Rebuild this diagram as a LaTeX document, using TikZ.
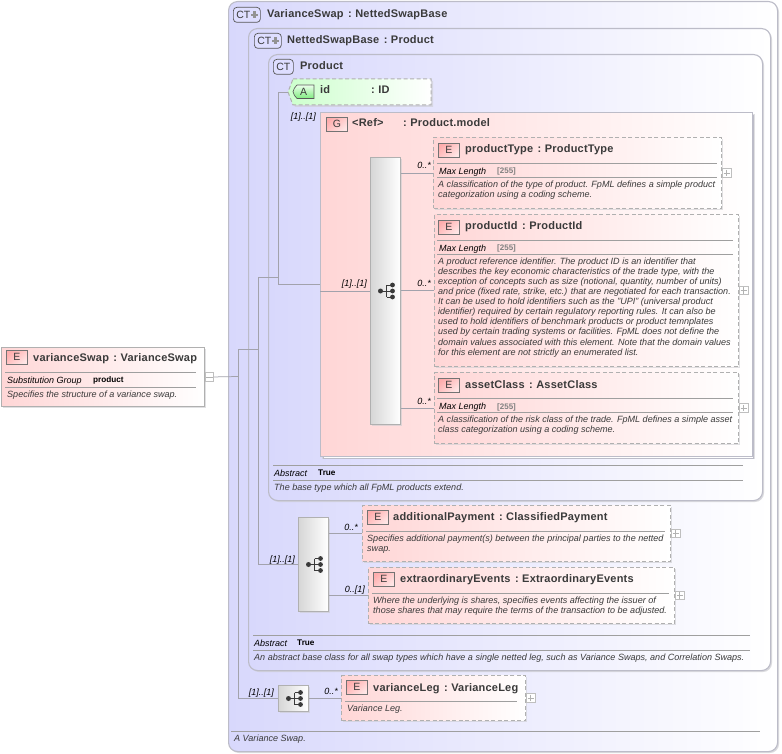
\documentclass[tikz,border=0pt]{standalone}
\usepackage{fontspec}
\setmainfont{Liberation Sans}
\usetikzlibrary{shapes.geometric,calc}
\definecolor{frame}{HTML}{BCBCC8}
\definecolor{wire}{HTML}{A2A2AC}
\definecolor{ctblue}{HTML}{D8D8FC}
\definecolor{epink}{HTML}{FFD6D6}
\definecolor{ink}{HTML}{3A3A3A}
\definecolor{dash}{HTML}{B0B0B0}
\definecolor{shad}{HTML}{CCCCD0}
\newcommand{\tsep}{\hspace{4.5pt}:\hspace{3.5pt}}
\tikzset{
 x=1pt,y=-1pt,
 ctpanel/.style={draw=frame,line width=1.1pt,rounded corners=9pt,left color=ctblue,right color=white,inner sep=0,anchor=north west},
 elemsolid/.style={draw=dash,line width=.9pt,left color=epink,right color=white,inner sep=0,anchor=north west},
 elemdash/.style={draw=dash,line width=1pt,dash pattern=on 4pt off 2.5pt,left color=epink,right color=white,inner sep=0,anchor=north west},
 groupbox/.style={draw=frame,line width=.9pt,left color=epink,right color=white,inner sep=0,anchor=north west},
 seqbox/.style={draw=dash,line width=1pt,left color=white!84!black,right color=white,inner sep=0,anchor=north west},
 wireln/.style={draw=wire,line width=.75pt},
 ruleln/.style={draw=gray!75,line width=.65pt},
 ttl/.style={font=\bfseries\fontsize{11}{13}\selectfont\addfontfeature{LetterSpace=2},text=ink,inner sep=0,anchor=base west},
 desc/.style={font=\itshape\fontsize{9.05}{10.1}\selectfont,text=ink,inner sep=0,anchor=north west,align=left},
 prop/.style={font=\itshape\fontsize{9}{10}\selectfont,text=black,inner sep=0,anchor=base west},
 propv/.style={font=\bfseries\fontsize{8.2}{10}\selectfont,text=black,inner sep=0,anchor=base west},
 lenv/.style={font=\bfseries\fontsize{8}{10}\selectfont,text=gray,inner sep=0,anchor=base west},
 card/.style={font=\itshape\fontsize{9}{10}\selectfont,text=black,inner sep=0,anchor=base east},
 badgee/.style={draw=gray!90!black,line width=.7pt,left color=red!32!white,right color=white!90!red,shading angle=40,minimum width=21pt,minimum height=14pt,inner sep=0,font=\fontsize{10.5}{12}\selectfont,text=ink},
 badgect/.style={draw=ink!85,line width=.7pt,rounded corners=3.5pt,fill=blue!13!white,minimum height=15pt,inner sep=0,font=\fontsize{10.5}{12}\selectfont,text=ink},
 plusbox/.style={draw=gray!50,line width=.6pt,fill=white,minimum width=8.5pt,minimum height=8.5pt,inner sep=0},
}
\newcommand{\cbox}[6]{%
 \pgfmathsetlengthmacro{\bw}{#5-#3}\pgfmathsetlengthmacro{\bh}{#6-#4}%
 \fill[shad,opacity=.6] (#3+2,#4+2) rectangle (#5+2,#6+2);%
 \node[#1,minimum width=\bw,minimum height=\bh] (#2) at (#3,#4) {};}
\newcommand{\panel}[6]{%
 \pgfmathsetlengthmacro{\bw}{#5-#3}\pgfmathsetlengthmacro{\bh}{#6-#4}%
 \fill[shad,opacity=.7,rounded corners=9pt] (#3+2,#4+2) rectangle (#5+2,#6+2);%
 \node[#1,minimum width=\bw,minimum height=\bh,rectangle] (#2) at (#3,#4) {};}
\newcommand{\plusm}[2]{%
 \node[plusbox,anchor=west] (#1) at (#2.east) {};
 \draw[gray!60,line width=.5pt] ($(#1.west)+(1.5,0)$) -- ($(#1.east)+(-1.5,0)$);
 \draw[gray!60,line width=.5pt] ($(#1.north)+(0,1.5)$) -- ($(#1.south)+(0,-1.5)$);}
\newcommand{\seqglyph}[1]{%
 \begin{scope}[shift={(#1.center)},ink]
  \fill (-5,0) circle (2.5);
  \fill (7,-6) circle (2.4); \fill (7,0) circle (2.4); \fill (7,6) circle (2.4);
  \draw[line width=.8pt] (-5,0) -- (7,0) (1,-6) -- (1,6) (1,-6) -- (7,-6) (1,6) -- (7,6);
 \end{scope}}
\newcommand{\ebadge}[4][E]{\node[badgee,anchor=north west] (#2) at (#3,#4) {#1};}
% CT badge with a thick grey cross
\newcommand{\ctplus}[3]{%
 \node[badgect,anchor=north west,minimum width=27pt,text width=25pt,align=left] (#1) at (#2,#3) {\hspace{2pt}CT};
 \fill[gray!85] ($(#1.center)+(4,-1.2)$) rectangle ++(7,2.4);
 \fill[gray!85] ($(#1.center)+(6.3,-3.5)$) rectangle ++(2.4,7);}
\begin{document}
\begin{tikzpicture}
\useasboundingbox (0,0) rectangle (782,754);
\fill[white] (0,0) rectangle (782,754);

% panels
\panel{ctpanel}{swapPanel}{228}{1}{777}{751}
\panel{ctpanel}{nettedPanel}{248}{28}{770}{670}
\panel{ctpanel}{productPanel}{268}{54}{762}{500}

% panel headers
\ctplus{ctA}{233}{7}
\node[ttl] (tA) at (267,18) {VarianceSwap\tsep NettedSwapBase};
\ctplus{ctB}{254}{33}
\node[ttl] (tB) at (287,44) {NettedSwapBase\tsep Product};
\node[badgect,anchor=north west,minimum width=20pt] (ctC) at (273,59) {CT};
\node[ttl] (tC) at (300,70) {Product};

% group (double edge)
\fill[shad,opacity=.6] (322,114) rectangle (755,459);
\draw[frame,line width=.7pt,fill=white] (323,115) rectangle (753,458);
\node[groupbox,minimum width=432pt,minimum height=344pt] (groupRef) at (320,112) {};
\node[badgee,anchor=north west] (gbadge) at (326,117) {G};
\node[ttl] (gname) at (352,127) {<Ref>};
\node[ttl] (gtype) at (403,127) {:\hspace{3.5pt}Product.model};

% attribute id
\fill[shad,opacity=.6] (295,81) -- (433,81) -- (433,107) -- (295,107) -- (290,94) -- cycle;
\path[draw=dash,line width=1pt,dash pattern=on 4pt off 2.5pt,left color=green!20!white,right color=white] (293,79) -- (431,79) -- (431,105) -- (293,105) -- (288,92) coordinate (idTip) -- cycle;
\path[draw=ink!85,line width=.65pt,top color=white!92!green,bottom color=green!50!white!85!gray] (297,85) -- (314,85) -- (314,98.5) -- (297,98.5) .. controls (295,97) and (293.5,94) .. (293,91.7) .. controls (293.5,89.5) and (295,86.5) .. (297,85) -- cycle;
\node[inner sep=0,font=\fontsize{10.5}{12}\selectfont,text=ink] (abadge) at (303.5,92) {A};
\node[ttl] (idname) at (320,94) {id};
\node[ttl] (idtype) at (371,94) {:\hspace{3.5pt}ID};

% sequence 1
\cbox{seqbox}{seqA}{370}{157}{400}{424}
\seqglyph{seqA}

% productType
\cbox{elemdash}{pType}{433}{137}{721}{208}
\ebadge{ePT}{438}{143}
\node[ttl] at (465,153) {productType\tsep ProductType};
\draw[ruleln] (437,163) -- (717,163) (437,177) -- (717,177);
\node[prop] at (439,174.5) {Max Length};
\node[lenv] at (497,174) {[255]};
\node[desc] at (438,180.5) {A classification of the type of product. FpML defines a simple product\\categorization using a coding scheme.};
\plusm{pPT}{pType}

% productId
\cbox{elemdash}{pId}{434}{214}{738}{366}
\ebadge{ePI}{438}{220}
\node[ttl] at (465,230) {productId\tsep ProductId};
\draw[ruleln] (437,240) -- (733,240) (437,254) -- (733,254);
\node[prop] at (439,251.5) {Max Length};
\node[lenv] at (497,251) {[255]};
\node[desc] at (438,257.5) {A product reference identifier. The product ID is an identifier that\\describes the key economic characteristics of the trade type, with the\\exception of concepts such as size (notional, quantity, number of units)\\and price (fixed rate, strike, etc.) that are negotiated for each transaction.\\It can be used to hold identifiers such as the "UPI" (universal product\\identifier) required by certain regulatory reporting rules. It can also be\\used to hold identifiers of benchmark products or product temnplates\\used by certain trading systems or facilities. FpML does not define the\\domain values associated with this element. Note that the domain values\\for this element are not strictly an enumerated list.};
\plusm{pPI}{pId}

% assetClass
\cbox{elemdash}{aClass}{434}{372}{738}{443}
\ebadge{eAC}{438}{378}
\node[ttl] at (465,388) {assetClass\tsep AssetClass};
\draw[ruleln] (437,398) -- (733,398) (437,412) -- (733,412);
\node[prop] at (439,409.5) {Max Length};
\node[lenv] at (497,409) {[255]};
\node[desc] at (438,415.5) {A classification of the risk class of the trade. FpML defines a simple asset\\class categorization using a coding scheme.};
\plusm{pAC}{aClass}

% Product footer
\draw[ruleln] (273,465) -- (743,465) (273,480) -- (743,480);
\node[prop] at (274,476) {Abstract};
\node[propv] at (318,475) {True};
\node[desc] at (274,483.5) {The base type which all FpML products extend.};

% sequence 2
\cbox{seqbox}{seqB}{298}{517}{328}{611}
\seqglyph{seqB}

% additionalPayment
\cbox{elemdash}{addPay}{362}{505}{670}{561}
\ebadge{eAP}{367}{510}
\node[ttl] at (393,520) {additionalPayment\tsep ClassifiedPayment};
\draw[ruleln] (366,531) -- (665,531);
\node[desc] at (367,534.5) {Specifies additional payment(s) between the principal parties to the netted\\swap.};
\plusm{pAP}{addPay}

% extraordinaryEvents
\cbox{elemdash}{extra}{368}{567}{674}{623}
\ebadge{eEE}{373}{572}
\node[ttl] at (400,582) {extraordinaryEvents\tsep ExtraordinaryEvents};
\draw[ruleln] (372,593) -- (669,593);
\node[desc] at (373,596.5) {Where the underlying is shares, specifies events affecting the issuer of\\those shares that may require the terms of the transaction to be adjusted.};
\plusm{pEE}{extra}

% Netted footer
\draw[ruleln] (253,635) -- (750,635) (253,650) -- (750,650);
\node[prop] at (254,646) {Abstract};
\node[propv] at (297,645) {True};
\node[desc] at (254,653.5) {An abstract base class for all swap types which have a single netted leg, such as Variance Swaps, and Correlation Swaps.};

% sequence 3
\cbox{seqbox}{seqC}{278}{685}{308}{711}
\seqglyph{seqC}

% varianceLeg
\cbox{elemdash}{vLeg}{341}{675}{525}{720}
\ebadge{eVL}{346}{680}
\node[ttl] at (373,691) {varianceLeg\tsep VarianceLeg};
\draw[ruleln] (345,701) -- (517,701);
\node[desc] at (347,704.5) {Variance Leg.};
\plusm{pVL}{vLeg}

% swap footer
\draw[ruleln] (231,731) -- (760,731);
\node[desc] at (234,734.5) {A Variance Swap.};

% root element
\cbox{elemsolid}{root}{1}{347}{204}{406}
\ebadge{eR}{6}{350}
\node[ttl] at (33,361) {varianceSwap\tsep VarianceSwap};
\draw[ruleln] (5,372) -- (196,372) (5,387) -- (196,387);
\node[prop] at (7,383) {Substitution Group};
\node[propv] at (93,382) {product};
\node[desc] at (7,390.5) {Specifies the structure of a variance swap.};
\node[plusbox,anchor=west] (pR) at (root.east) {};
\draw[gray!60,line width=.5pt] ($(pR.west)+(1.5,0)$) -- ($(pR.east)+(-1.5,0)$);

% junction points
\coordinate (busA) at (238,376.5);
\coordinate (busB) at (258,349);
\coordinate (busC) at (278,277);

% connectors
\draw[wireln] (pR.east) -- (busA);
\draw[wireln] (busA |- busB) -- (busA |- seqC.west) -- (seqC.west);
\draw[wireln] (busA |- busB) -- (busB);
\draw[wireln] (busB |- busC) -- (busB |- seqB.west) -- (seqB.west);
\draw[wireln] (busB |- busC) -- (busC);
\draw[wireln] (idTip) -- (busC |- idTip) -- (busC |- groupRef.west) -- (groupRef.west);
\draw[wireln] (groupRef.west |- seqA.west) -- (seqA.west);
\draw[wireln] (seqA.east |- pType.west) -- (pType.west);
\draw[wireln] (seqA.east |- pId.west) -- (pId.west);
\draw[wireln] (seqA.east |- aClass.west) -- (aClass.west);
\draw[wireln] (seqB.east |- addPay.west) -- (addPay.west);
\draw[wireln] (seqB.east |- extra.west) -- (extra.west);
\draw[wireln] (seqC.east |- vLeg.west) -- (vLeg.west);

% cardinalities
\node[card] at (316,120) {[1]..[1]};
\node[card] at (367,287) {[1]..[1]};
\node[card] at (431,169) {0..*};
\node[card] at (431,287) {0..*};
\node[card] at (431,404) {0..*};
\node[card] at (295,562) {[1]..[1]};
\node[card] at (358,530) {0..*};
\node[card] at (365,592) {0..[1]};
\node[card] at (274,695) {[1]..[1]};
\node[card] at (338,694) {0..*};
\end{tikzpicture}
\end{document}
